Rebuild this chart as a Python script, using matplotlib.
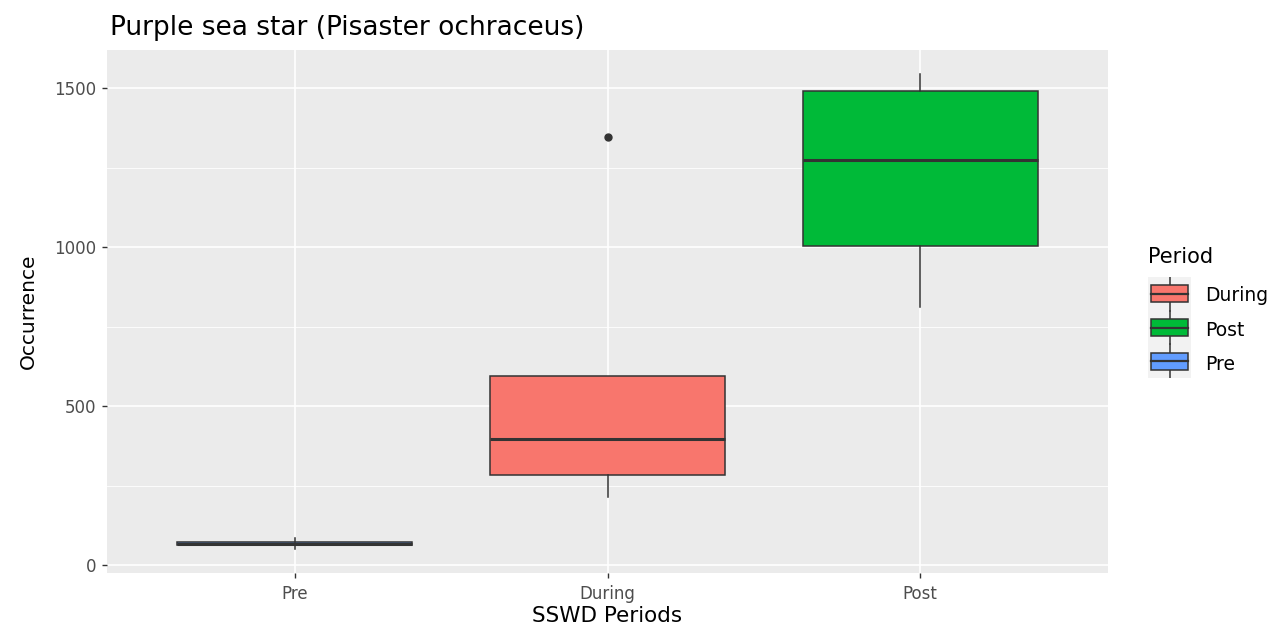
import matplotlib
matplotlib.use("Agg")
import matplotlib.pyplot as plt
from matplotlib.patches import Rectangle

plt.rcParams['font.family'] = ['DejaVu Sans']

# box summaries per SSWD period (order on the x axis)
periods = ["Pre", "During", "Post"]
whisker_low = [53, 215, 812]
q1 = [63, 284, 1003]
median = [68, 397, 1274]
q3 = [73, 594, 1492]
whisker_high = [85, 594, 1546]
outliers = [[], [1346], []]

# legend order (alphabetical, as ggplot sorts factor levels)
legend_levels = ["During", "Post", "Pre"]
fill = {"During": "#F8766D", "Post": "#00BA38", "Pre": "#619CFF"}

W, H = 1276, 626
fig = plt.figure(figsize=(W / 100, H / 100), dpi=100)
ax = fig.add_axes([107 / W, (H - 573) / H, (1108 - 107) / W, (573 - 50) / H])
ax.set_facecolor("#EBEBEB")

stats = []
for i, p in enumerate(periods):
    stats.append(dict(label=p, whislo=whisker_low[i], q1=q1[i], med=median[i],
                      q3=q3[i], whishi=whisker_high[i], fliers=outliers[i]))

edge = "#333333"
bp = ax.bxp(stats, positions=[1, 2, 3], widths=0.75, patch_artist=True,
            showcaps=False,
            boxprops=dict(edgecolor=edge, linewidth=1.1),
            whiskerprops=dict(color=edge, linewidth=1.1),
            medianprops=dict(color=edge, linewidth=2.2),
            flierprops=dict(marker="o", markerfacecolor=edge, markeredgecolor=edge,
                            markersize=5))
for patch, p in zip(bp["boxes"], periods):
    patch.set_facecolor(fill[p])
for artist in bp["boxes"] + bp["whiskers"] + bp["medians"] + bp["fliers"]:
    artist.set_zorder(3)

ax.set_xlim(0.4, 3.6)
ax.set_ylim(-24, 1620)
ax.set_xticks([1, 2, 3])
ax.set_xticklabels(periods)
ax.set_yticks([0, 500, 1000, 1500])
ax.set_yticks([250, 750, 1250], minor=True)
ax.grid(which="major", color="white", linewidth=1.2, zorder=0)
ax.grid(which="minor", axis="y", color="white", linewidth=0.6, zorder=0)
ax.set_axisbelow(True)
for s in ax.spines.values():
    s.set_visible(False)
ax.tick_params(which="major", length=3.5, width=1.0, color="#333333",
               labelcolor="#4D4D4D", labelsize=12, pad=4)
ax.tick_params(axis="x", pad=5)
ax.tick_params(which="minor", length=0)

ax.set_xlabel("SSWD Periods", fontsize=15.5, color="black", labelpad=2)
ax.set_ylabel("Occurrence", fontsize=14.5, color="black", labelpad=12)
fig.text(110 / W, 1 - 28 / H, "Purple sea star (Pisaster ochraceus)",
         fontsize=19, color="black", va="center", ha="left")

# legend drawn as small box glyphs
fig.text(1148 / W, 1 - 257 / H, "Period", fontsize=15, va="center", ha="left")
lax = fig.add_axes([1148 / W, (H - 378) / H, 43 / W, 101 / H])
lax.set_xlim(0, 1)
lax.set_ylim(0, 3)
lax.set_facecolor("#F2F2F2")
lax.set_xticks([])
lax.set_yticks([])
for s in lax.spines.values():
    s.set_visible(False)
for k, lev in enumerate(legend_levels):
    yc = 2.5 - k
    lax.plot([0.5, 0.5], [yc - 0.5, yc + 0.5], color=edge, linewidth=1.1, zorder=1)
    lax.add_patch(Rectangle((0.08, yc - 0.25), 0.84, 0.5, facecolor=fill[lev],
                            edgecolor=edge, linewidth=1.1, zorder=2))
    lax.plot([0.08, 0.92], [yc, yc], color=edge, linewidth=1.6, zorder=3)
    fig.text(1205 / W, 1 - (296 + 34 * k) / H, lev, fontsize=13.5,
             va="center", ha="left")

fig.savefig("out.png", dpi=100)
